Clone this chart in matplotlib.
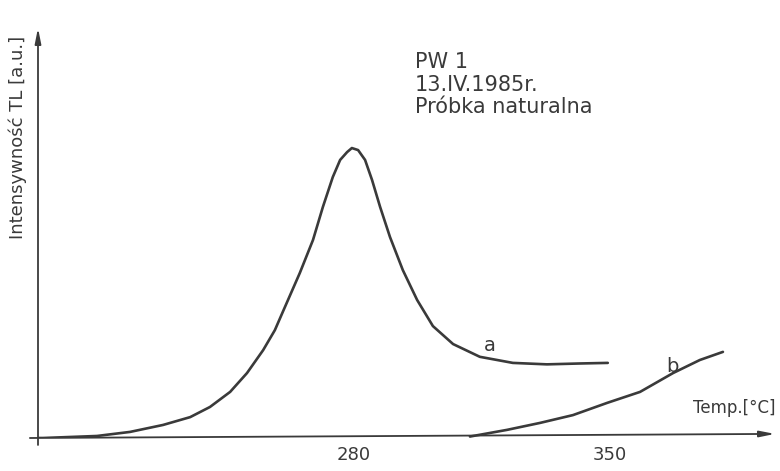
import matplotlib
matplotlib.use("Agg")
from matplotlib import pyplot as plt

# curve a: natural sample glow curve
temp_a = [194.0, 195.4, 210.1, 219.1, 228.1, 235.5, 240.9, 246.4, 251.0, 255.4,
          258.6, 260.8, 265.4, 269.0, 271.7, 274.4, 276.4, 278.3, 279.6, 281.3,
          283.2, 285.1, 287.3, 290.0, 293.5, 297.4, 301.7, 307.2, 314.5, 323.5,
          332.8, 341.8, 349.4]
tl_a = [0.0, 0.0, 0.7, 2.1, 4.5, 7.2, 10.7, 15.9, 22.4, 30.3,
        37.2, 43.6, 56.9, 68.3, 79.7, 90.0, 95.9, 98.6, 100.0, 99.3,
        95.9, 89.0, 79.7, 69.3, 57.9, 47.6, 38.6, 32.4, 28.0, 25.9,
        25.4, 25.7, 25.9]

# curve b: background
temp_b = [311.8, 321.9, 330.9, 339.9, 349.2, 358.2, 367.2, 374.5, 380.8]
tl_b = [0.5, 2.8, 5.2, 7.9, 12.1, 15.9, 22.4, 26.9, 29.7]

xticks = [280, 350]
ink = "#3a3a3a"

fig = plt.figure(figsize=(7.8, 4.71), dpi=100)
ax = fig.add_axes([38 / 780, 33 / 471, 737 / 780, 410 / 471])

ax.plot(temp_a, tl_a, color=ink, lw=1.9, solid_capstyle="round", solid_joinstyle="round")
ax.plot(temp_b, tl_b, color=ink, lw=1.9, solid_capstyle="round", solid_joinstyle="round")

ax.set_xlim(194, 395)
ax.set_ylim(0, 141.4)

for s in ax.spines.values():
    s.set_visible(False)
ax.set_yticks([])
ax.set_xticks(xticks)
ax.set_xticklabels([str(t) for t in xticks], fontsize=13, color=ink)
ax.tick_params(axis="x", length=0, pad=6)

# hand drawn axes with arrows
arrow = dict(arrowstyle="-|>,head_length=0.9,head_width=0.18", color=ink, lw=1.3,
             shrinkA=0, shrinkB=0)
ax.annotate("", xy=(0, 1), xytext=(0, -0.017), xycoords="axes fraction",
            arrowprops=arrow, annotation_clip=False)
ax.annotate("", xy=(1, 0.01), xytext=(-0.011, 0), xycoords="axes fraction",
            arrowprops=arrow, annotation_clip=False)

# labels
fig.text(18 / 780, 1 - 137 / 471, "Intensywność TL [a.u.]", rotation=90,
         fontsize=13, color=ink, ha="center", va="center")
ax.text(296.8, 133, "PW 1\n13.IV.1985r.\nPróbka naturalna", fontsize=15,
        color=ink, ha="left", va="top", linespacing=1.15)
ax.text(317.3, 32, "a", fontsize=14, color=ink, ha="center", va="center")
ax.text(366.9, 24.5, "b", fontsize=14, color=ink, ha="center", va="center")
ax.text(384, 10.3, "Temp.[°C]", fontsize=12, color=ink, ha="center", va="center")

fig.savefig("out.png", dpi=100)
